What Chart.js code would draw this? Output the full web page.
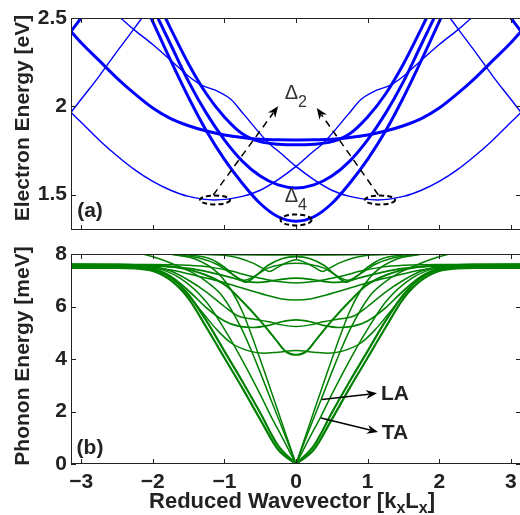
<!DOCTYPE html>
<html><head><meta charset="utf-8">
<script src="https://cdn.jsdelivr.net/npm/chart.js@4.4.1/dist/chart.umd.min.js"></script>
<style>
html,body{margin:0;padding:0;background:#fff;overflow:hidden;width:520px;height:515px;}
#wrap{position:relative;width:520px;height:515px;overflow:hidden;background:#fff;}
canvas{position:absolute;left:0;}
#ca{top:0;} #cb{top:240px;}
</style></head><body>
<div id="wrap"><canvas id="ca" width="522" height="240"></canvas><canvas id="cb" width="522" height="275"></canvas></div>
<script>
const PI = Math.PI;
// ---------- axes ----------
const X_TICKS = [-3, -2, -1, 0, 1, 2, 3];
const Y_TICKS_A = [1.5, 2, 2.5];
const Y_TICKS_B = [0, 2, 4, 6, 8];

// ---------- panel (a): electron bands [k, E(eV)] ----------
// symmetric bands, given for k >= 0
const bandD4 = [[0,1.35],[0.25,1.375],[0.5,1.45],[0.75,1.565],[1.0,1.70],[1.25,1.86],[1.5,2.05],[1.75,2.26],[2.0,2.48],[2.25,2.70]];
const bandB2 = [[0,1.538],[0.25,1.555],[0.5,1.605],[0.75,1.69],[1.0,1.81],[1.25,1.96],[1.5,2.14],[1.75,2.35],[2.0,2.56]];
const bandC2 = [[0,1.782],[0.25,1.786],[0.5,1.80],[0.75,1.845],[1.0,1.94],[1.25,2.07],[1.5,2.24],[1.75,2.44],[2.0,2.65]];
const bandC  = [[0,1.81],[0.25,1.811],[0.5,1.813],[0.75,1.823],[1.0,1.838],[1.25,1.86],[1.5,1.89],[1.75,1.93],[2.0,1.99],[2.25,2.07],[2.5,2.16],[2.75,2.26],[3.0,2.36],[PI,2.424]];
// non-symmetric bands (left member; right member is its mirror image)
const bandD  = [[-PI,2.424],[-3.0,2.50],[-2.85,2.58]];
const bandT1 = [[-PI,1.966],[-3.0,1.91],[-2.75,1.81],[-2.5,1.72],[-2.25,1.64],[-2.0,1.575],[-1.75,1.525],[-1.5,1.49],[-1.14,1.47],[-0.75,1.49],[-0.5,1.525],[-0.25,1.585],[0,1.66],[0.2,1.73],[0.4,1.80],[0.72,1.95],[0.91,2.04],[1.09,2.085],[1.32,2.12],[1.5,2.17],[1.72,2.25],[2.0,2.35],[2.25,2.43],[2.45,2.5],[2.7,2.58]];
const bandT2 = [[-PI,1.966],[-3.0,2.04],[-2.75,2.17],[-2.5,2.31],[-2.26,2.44],[-2.1,2.53]];

// ---------- panel (b): phonon branches [k, E(meV)] ----------
// acoustic branches from k = 0 (right half; left half is mirror)
const brA1 = [[0,0],[0.25,0.55],[0.5,1.7],[0.75,2.9],[1.0,4.05],[1.25,5.2],[1.5,6.3],[1.75,7.0],[2.0,7.35],[2.25,7.45],[2.5,7.47],[3.0,7.47],[PI,7.47]];
const brA2 = [[0,0],[0.25,0.7],[0.5,1.95],[0.75,3.15],[1.0,4.3],[1.25,5.45],[1.5,6.45],[1.75,7.1],[2.0,7.42],[2.25,7.49],[2.5,7.5],[PI,7.5]];
const brA3 = [[0,0],[0.2,1.05],[0.34,1.77],[0.5,2.65],[0.7,3.7],[0.98,5.05],[1.26,6.2],[1.63,7.1],[2.0,7.5],[2.5,7.61],[PI,7.62]];
const brA4 = [[0,0],[0.2,1.42],[0.35,2.45],[0.56,3.9],[0.75,5.1],[1.03,6.4],[1.25,6.95],[1.44,7.28],[1.7,7.6],[1.91,7.82],[2.1,7.97],[2.4,8.12]];
const brA5 = [[0,0],[0.2,1.6],[0.4,3.2],[0.56,4.45],[0.74,5.75],[0.9,6.6],[1.1,7.3],[1.4,7.8],[1.7,7.97],[2.0,8.1]];
// symmetric branches, given for k >= 0
const brP1 = [[0,4.16],[0.15,4.3],[0.28,4.73],[0.51,5.49],[0.75,6.2],[0.98,6.8],[1.26,7.2],[1.63,7.48],[2.0,7.56],[2.5,7.58],[PI,7.58]];
const brP2 = [[0,4.32],[0.25,4.26],[0.45,4.22],[0.65,4.3],[0.9,4.6],[1.1,5.1],[1.3,5.75],[1.5,6.4],[1.75,7.0],[2.0,7.38],[2.3,7.5],[2.7,7.53],[PI,7.53]];
const brP3 = [[0,5.49],[0.2,5.42],[0.4,5.27],[0.6,5.2],[0.8,5.25],[1.0,5.45],[1.25,5.95],[1.5,6.6],[1.75,7.15],[2.0,7.45],[2.5,7.55],[PI,7.55]];
const brP4 = [[0,5.24],[0.2,5.3],[0.4,5.43],[0.6,5.52],[0.8,5.63],[1.0,6.0],[1.25,6.55],[1.5,7.0],[1.75,7.35],[2.0,7.52],[2.5,7.6],[PI,7.6]];
const brP5 = [[0,6.25],[0.2,6.29],[0.42,6.44],[0.65,6.62],[0.89,6.82],[1.1,6.98],[1.35,7.14],[1.72,7.38],[2.0,7.48],[2.5,7.52],[PI,7.52]];
const brR1 = [[0,7.08],[0.25,7.02],[0.5,6.92],[0.7,6.95],[0.9,7.1],[1.2,7.3],[1.5,7.45],[2.0,7.55],[2.5,7.57],[PI,7.57]];
const brR2 = [[0,6.9],[0.25,6.95],[0.5,7.08],[0.7,7.2],[0.9,7.35],[1.2,7.5],[1.5,7.57],[2.0,7.6],[PI,7.6]];
const brQ1 = [[0,7.97],[0.5,7.97],[1.0,7.98],[1.5,7.99],[2.0,8.02],[2.5,8.08]];
const brQ2 = [[0,7.78],[0.15,7.65],[0.28,7.45],[0.37,7.33],[0.46,7.45],[0.6,7.65],[0.8,7.85],[1.0,7.95],[1.3,7.99],[1.6,8.02],[2.0,8.06]];
const brQ3 = [[0,7.9],[0.2,7.82],[0.4,7.55],[0.55,7.2],[0.7,6.93],[0.85,7.15],[1.0,7.5],[1.2,7.82],[1.45,7.95],[1.8,8.02],[2.2,8.08]];
const brQ4 = [[0,7.65],[0.2,7.6],[0.4,7.45],[0.55,7.2],[0.72,7.0],[0.9,7.25],[1.1,7.6],[1.35,7.85],[1.7,7.98],[2.1,8.05]];

// ---------- helpers ----------
function mirror(arr){ return arr.map(([k,e])=>[-k,e]).reverse(); }
function sym(half){ return mirror(half.filter(p=>p[0]>0)).concat(half); }

const FONT = '"Liberation Sans", Arial, Helvetica, sans-serif';
const INK = '#222222';
const BLUE = '#0000ff', GREEN = '#008000';
const THICK = 3, THIN = 1.4;

function ds(pts, color, w){
  return {data: pts.map(([k,e])=>({x:k,y:e})), borderColor: color, borderWidth: w,
          pointRadius: 0, fill: false, cubicInterpolationMode: 'monotone'};
}

const topSeries = [
  ds(sym(bandC), BLUE, THICK), ds(sym(bandC2), BLUE, THICK), ds(sym(bandB2), BLUE, THICK), ds(sym(bandD4), BLUE, THICK),
  ds(bandD, BLUE, THICK), ds(mirror(bandD), BLUE, THICK),
  ds(bandT1, BLUE, THIN), ds(mirror(bandT1), BLUE, THIN), ds(bandT2, BLUE, THIN), ds(mirror(bandT2), BLUE, THIN)
];
const botSeries = [];
[brA1, brA2].forEach(b=>{ botSeries.push(ds(b, GREEN, 2.2), ds(mirror(b), GREEN, 2.2)); });
[brA3, brA4, brA5].forEach(b=>{ botSeries.push(ds(b, GREEN, 1.5), ds(mirror(b), GREEN, 1.5)); });
[[brP1,2.0],[brP2,1.5],[brP3,1.7],[brP4,1.5],[brP5,1.5],[brR1,1.7],[brR2,1.5],[brQ1,1.7],[brQ2,1.5],[brQ3,1.7],[brQ4,1.5]]
  .forEach(([b,w])=>botSeries.push(ds(sym(b), GREEN, w)));

// ---------- annotation layout (data coordinates) ----------
const ANN_A = {
  ellipses: [[-1.131,1.470,15,4.5],[1.173,1.470,15,4.5],[0,1.357,15.5,5.5]],
  arrows: [[-1.155,1.498,-0.25,2.0],[1.15,1.498,0.29,1.99]],
  deltas: [['2',-0.063,2.07],['4',-0.063,1.49]],
  panel: ['(a)',-2.876,1.408]
};
const ANN_B = {
  arrows: [[0.359,2.457,1.131,2.693],[0.349,1.752,1.145,1.219]],
  labels: [['LA',1.382,2.667],['TA',1.382,1.181]],
  panel: ['(b)',-2.876,0.61]
};

function arrow(ctx,x1,y1,x2,y2,dashed){
  const ang = Math.atan2(y2-y1,x2-x1), c=Math.cos(ang), s=Math.sin(ang);
  const L=11, W=4.5;
  const pt=(u,v)=>[x2+u*c-v*s, y2+u*s+v*c];
  const base = pt(-L*0.75,0);
  ctx.beginPath(); ctx.setLineDash(dashed?[7,5]:[]);
  ctx.moveTo(x1,y1); ctx.lineTo(base[0],base[1]); ctx.stroke();
  ctx.setLineDash([]);
  const p1=pt(-L,W), p2=pt(-L*0.7,0), p3=pt(-L,-W);
  ctx.beginPath(); ctx.moveTo(x2,y2); ctx.lineTo(p1[0],p1[1]); ctx.lineTo(p2[0],p2[1]); ctx.lineTo(p3[0],p3[1]); ctx.closePath(); ctx.fill();
}

const framePlugin = {
  id:'frame',
  afterDatasetsDraw(chart){
    const {ctx, chartArea:a, scales:{x,y}} = chart;
    ctx.save();
    ctx.strokeStyle = INK; ctx.lineWidth = 1;
    ctx.strokeRect(a.left+0.5, a.top+0.5, a.right-a.left-1, a.bottom-a.top-1);
    ctx.beginPath();
    x.ticks.forEach(t=>{ const p=Math.round(x.getPixelForValue(t.value))+0.5;
      ctx.moveTo(p,a.bottom); ctx.lineTo(p,a.bottom-5); ctx.moveTo(p,a.top); ctx.lineTo(p,a.top+5); });
    y.ticks.forEach(t=>{ const p=Math.round(y.getPixelForValue(t.value))+0.5;
      ctx.moveTo(a.left,p); ctx.lineTo(a.left+5,p); ctx.moveTo(a.right,p); ctx.lineTo(a.right-5,p); });
    ctx.stroke();
    ctx.restore();
  }
};

function yTitle(ctx, text, cx, cy){
  ctx.save(); ctx.translate(cx, cy); ctx.rotate(-Math.PI/2);
  ctx.font = 'bold 21px '+FONT; ctx.fillStyle = INK; ctx.textAlign='center'; ctx.textBaseline='alphabetic';
  ctx.fillText(text, 0, 0); ctx.restore();
}

const annAPlugin = {
  id:'annA',
  afterDraw(chart){
    const {ctx, scales:{x,y}} = chart;
    ctx.save();
    ctx.strokeStyle = '#000'; ctx.fillStyle = '#000';
    ctx.lineWidth = 2; ctx.setLineDash([5,3]);
    ANN_A.ellipses.forEach(([k,e,rx,ry])=>{ ctx.beginPath(); ctx.ellipse(x.getPixelForValue(k), y.getPixelForValue(e), rx, ry, 0, 0, 2*Math.PI); ctx.stroke(); });
    ctx.lineWidth = 1.5;
    ANN_A.arrows.forEach(([k1,e1,k2,e2])=>arrow(ctx, x.getPixelForValue(k1), y.getPixelForValue(e1), x.getPixelForValue(k2), y.getPixelForValue(e2), true));
    ctx.fillStyle = '#333'; ctx.textAlign='center'; ctx.textBaseline='middle';
    ANN_A.deltas.forEach(([sub,k,e])=>{
      const px=x.getPixelForValue(k), py=y.getPixelForValue(e);
      ctx.font = '20px '+FONT; ctx.fillText('\u0394', px, py);
      ctx.font = '16px '+FONT; ctx.fillText(sub, px+11, py+9);
    });
    ctx.fillStyle = INK; ctx.font = 'bold 21px '+FONT;
    ctx.fillText(ANN_A.panel[0], x.getPixelForValue(ANN_A.panel[1]), y.getPixelForValue(ANN_A.panel[2]));
    yTitle(ctx, 'Electron Energy [eV]', 29, 118);
    ctx.restore();
  }
};

const annBPlugin = {
  id:'annB',
  afterDraw(chart){
    const {ctx, scales:{x,y}} = chart;
    ctx.save();
    ctx.strokeStyle = '#000'; ctx.fillStyle = '#000'; ctx.lineWidth = 1.5;
    ANN_B.arrows.forEach(([k1,e1,k2,e2])=>arrow(ctx, x.getPixelForValue(k1), y.getPixelForValue(e1), x.getPixelForValue(k2), y.getPixelForValue(e2), false));
    ctx.fillStyle = INK; ctx.font = 'bold 21px '+FONT; ctx.textAlign='center'; ctx.textBaseline='middle';
    ANN_B.labels.forEach(([t,k,e])=>ctx.fillText(t, x.getPixelForValue(k), y.getPixelForValue(e)));
    ctx.fillText(ANN_B.panel[0], x.getPixelForValue(ANN_B.panel[1]), y.getPixelForValue(ANN_B.panel[2]));
    yTitle(ctx, 'Phonon Energy [meV]', 29, 116);
    // x-axis title with subscripts
    const parts = [['Reduced Wavevector [k',0],['x',1],['L',0],['x',1],[']',0]];
    const fMain = 'bold 22px '+FONT, fSub = 'bold 16px '+FONT;
    let total = 0;
    parts.forEach(([t,s])=>{ ctx.font = s?fSub:fMain; total += ctx.measureText(t).width; });
    let cx = 292 - total/2; const base = 268;
    ctx.textAlign='left'; ctx.textBaseline='alphabetic';
    parts.forEach(([t,s])=>{ ctx.font = s?fSub:fMain; ctx.fillText(t, cx, base + (s?5:0)); cx += ctx.measureText(t).width; });
    ctx.restore();
  }
};

Chart.defaults.font.family = FONT;
Chart.defaults.color = INK;

function baseOptions(yMin, yMax, yTicks, padTop, xHeight, showXLabels){
  return {
    responsive:false, animation:false, events:[],
    layout:{padding:{top:padTop, right:1, left:0, bottom:0}},
    plugins:{legend:{display:false}, tooltip:{enabled:false}, title:{display:false}},
    scales:{
      x:{type:'linear', min:-PI, max:PI,
         grid:{display:false, drawTicks:false}, border:{display:false},
         ticks:{display:showXLabels, font:{size:21, weight:'bold'}, color:INK, padding:6, maxRotation:0, autoSkip:false,
                callback:v=> v<0 ? '\u2212'+Math.abs(v) : String(v)},
         afterBuildTicks:s=>{ s.ticks = X_TICKS.map(v=>({value:v})); },
         afterFit:s=>{ s.height = xHeight; s.paddingLeft = 0; s.paddingRight = 0; }},
      y:{type:'linear', min:yMin, max:yMax,
         grid:{display:false, drawTicks:false}, border:{display:false},
         ticks:{font:{size:21, weight:'bold'}, color:INK, padding:4, autoSkip:false, callback:v=>String(v)},
         afterBuildTicks:s=>{ s.ticks = yTicks.map(v=>({value:v})); },
         afterFit:s=>{ s.width = 71; s.paddingTop = 0; s.paddingBottom = 0; }}
    }
  };
}

new Chart(document.getElementById('ca'), {
  type:'line', data:{datasets: topSeries},
  options: baseOptions(1.3, 2.5, Y_TICKS_A, 18, 10, false),
  plugins:[framePlugin, annAPlugin]
});
new Chart(document.getElementById('cb'), {
  type:'line', data:{datasets: botSeries},
  options: baseOptions(0, 8, Y_TICKS_B, 14, 51, true),
  plugins:[framePlugin, annBPlugin]
});
</script></body></html>
